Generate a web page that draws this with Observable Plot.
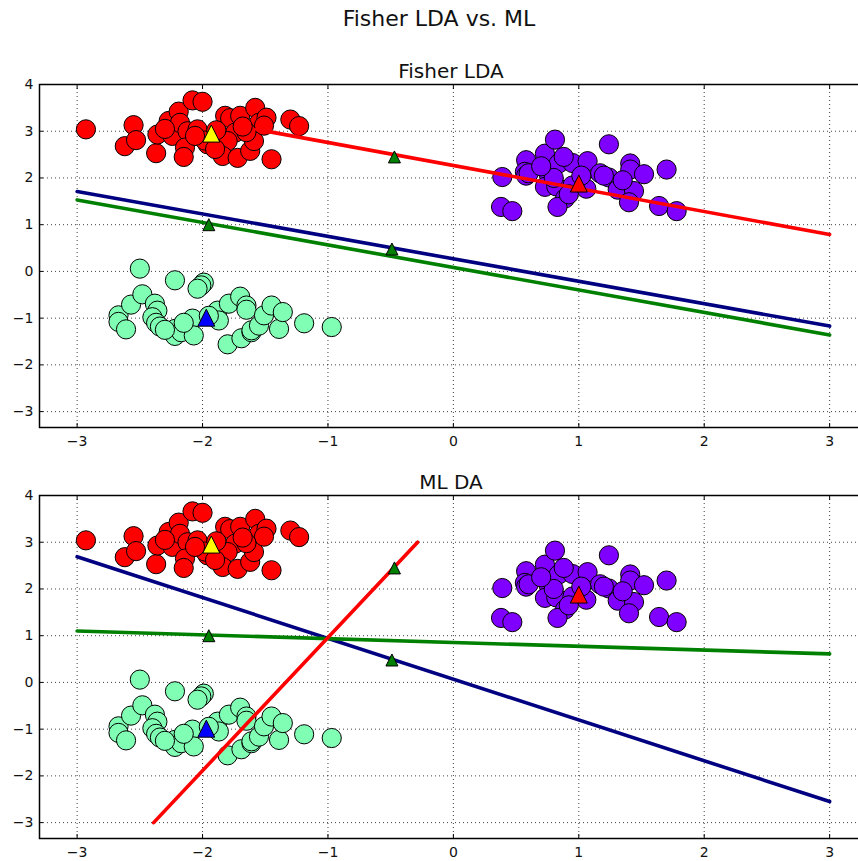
<!DOCTYPE html>
<html><head><meta charset="utf-8">
<script src="https://cdn.jsdelivr.net/npm/d3@7"></script>
<script src="https://cdn.jsdelivr.net/npm/@observablehq/plot@0.6"></script>
<style>
html,body{margin:0;padding:0;background:#fff;overflow:hidden;width:858px;height:861px;}
#root{position:relative;width:858px;height:861px;font-family:"DejaVu Sans",sans-serif;color:#000;}
.t{position:absolute;white-space:nowrap;transform:translateX(-50%);line-height:1;color:#111;}
.p{position:absolute;left:0;}
svg{max-width:none !important;}
svg text{font-size:14px !important;font-family:"DejaVu Sans",sans-serif !important;fill:#111;}
</style></head><body><div id="root"></div>
<script>
// ---- data ----
const figTitle = "Fisher LDA vs. ML";
const panelTitles = ["Fisher LDA", "ML DA"];
const xTicks = [-3, -2, -1, 0, 1, 2, 3];
const yTicks = [-3, -2, -1, 0, 1, 2, 3, 4];

const redX = [-2.93,-2.55,-2.62,-2.53,-2.37,-2.36,-2.27,-2.24,-2.19,-2.18,-2.12,-2.14,-2.15,-2.08,-2.00,-2.04,-1.96,-1.98,-1.82,-1.78,-1.70,-1.74,-1.80,-1.84,-1.72,-1.62,-1.59,-1.58,-1.55,-1.49,-1.51,-1.30,-1.23,-1.45,-1.89,-1.65,-2.30,-2.06,-1.90,-1.68];
const redY = [3.04,3.13,2.68,2.81,2.53,2.93,3.22,2.90,3.42,3.18,3.00,2.65,2.45,3.66,3.63,3.04,2.72,2.80,3.33,3.28,3.33,2.97,2.79,2.47,2.43,2.58,2.79,3.50,3.18,3.29,3.12,3.25,3.11,2.40,3.02,2.98,3.05,2.90,2.62,3.10];

const greenX = [-2.50,-2.22,-1.99,-2.01,-2.04,-2.67,-2.67,-2.61,-2.57,-2.48,-2.38,-2.36,-2.40,-2.37,-2.34,-2.22,-2.22,-2.17,-2.08,-2.07,-1.88,-1.87,-1.79,-1.70,-1.65,-1.65,-1.80,-1.69,-1.61,-1.61,-1.55,-1.51,-1.45,-1.39,-1.36,-1.19,-0.97,-2.30,-1.95,-2.15];
const greenY = [0.06,-0.19,-0.24,-0.30,-0.37,-0.94,-1.08,-1.24,-0.71,-0.49,-0.69,-0.84,-0.98,-1.10,-1.18,-1.23,-1.38,-1.30,-1.01,-1.37,-0.84,-1.05,-0.69,-0.54,-0.73,-0.82,-1.56,-1.43,-1.30,-1.26,-1.16,-0.94,-0.73,-1.23,-0.87,-1.11,-1.19,-1.25,-0.95,-1.10];

const purpleX = [0.39,0.38,0.47,0.58,0.57,0.58,0.73,0.81,0.76,0.84,0.95,1.07,1.17,1.24,1.24,0.73,0.82,0.95,1.06,0.89,0.83,0.92,1.41,1.41,1.52,1.70,1.31,1.44,1.40,1.64,1.78,0.88,0.80,1.02,1.20,1.35,0.60,0.70];
const purpleY = [2.02,1.38,1.29,2.38,2.13,2.05,2.52,2.82,2.09,2.31,2.32,2.36,2.10,2.72,2.01,1.81,1.82,1.84,1.77,1.56,1.38,1.65,2.31,2.18,2.08,2.18,1.75,1.72,1.48,1.40,1.29,2.45,2.00,2.05,2.05,1.95,2.10,2.25];

// class means (big triangles)
const meanX = [-1.93, -1.97, 1.00];
const meanY = [2.95, -0.99, 1.88];
const meanColors = ["#ffff00", "#0000ff", "#ff0000"];
// small green triangles
const markX = [-1.95, -0.47, -0.49];
const markY = [1.00, 2.45, 0.48];

// boundary lines: [x0, x1], [y0, y1]
const fisherBlueX = [-3, 3],     fisherBlueY = [1.71, -1.17];
const fisherGreenX = [-3, 3],    fisherGreenY = [1.53, -1.36];
const fisherRedX = [-1.57, 3],   fisherRedY = [3.04, 0.79];
const mlBlueX = [-3, 3],         mlBlueY = [2.69, -2.55];
const mlGreenX = [-3, 3],        mlGreenY = [1.10, 0.61];
const mlRedX = [-2.39, -0.285],  mlRedY = [-3.0, 3.0];

// ---- build ----
const zip = (xs, ys) => xs.map((x, i) => ({x, y: ys[i]}));
const reds = zip(redX, redY), greens = zip(greenX, greenY), purples = zip(purpleX, purpleY);
const means = meanX.map((x, i) => ({x, y: meanY[i], c: meanColors[i]}));
const marks = zip(markX, markY);

const mplTriangle = {
  draw(ctx, size) {
    const r = Math.sqrt(size / Math.PI);
    ctx.moveTo(0, -r); ctx.lineTo(r, r); ctx.lineTo(-r, r); ctx.closePath();
  }
};
const fmt = d3.format("d");
const TF = 14;

function panel(lineSets) {
  return Plot.plot({
    width: 863, height: 24 + 343 + 30,
    marginLeft: 39, marginRight: 0, marginTop: 24, marginBottom: 30,
    x: {domain: [-3.3, 3.27]},
    y: {domain: [-3.34, 4]},
    style: {fontFamily: "DejaVu Sans", fontSize: TF + "px", background: "transparent", color: "#111", overflow: "visible"},
    marks: [
      Plot.gridX(xTicks, {stroke: "#000", strokeOpacity: 0.75, strokeDasharray: "1,3"}),
      Plot.gridY(yTicks, {stroke: "#000", strokeOpacity: 0.75, strokeDasharray: "1,3"}),
      Plot.dot(reds, {x: "x", y: "y", r: 9.6, fill: "#ff0000", stroke: "#000", strokeWidth: 1}),
      Plot.dot(greens, {x: "x", y: "y", r: 9.6, fill: "#80ffb4", stroke: "#000", strokeWidth: 1}),
      Plot.dot(purples, {x: "x", y: "y", r: 9.6, fill: "#8000ff", stroke: "#000", strokeWidth: 1}),
      ...lineSets.map(([xs, ys, c]) => Plot.line(zip(xs, ys), {x: "x", y: "y", stroke: c, strokeWidth: 3.6})),
      Plot.dot(marks, {x: "x", y: "y", r: 6, symbol: mplTriangle, fill: "#008000", stroke: "#000", strokeWidth: 1}),
      Plot.dot(means, {x: "x", y: "y", r: 8.5, symbol: mplTriangle, fill: d => d.c, stroke: "#000", strokeWidth: 1}),
      Plot.axisX(xTicks, {anchor: "bottom", label: null, tickSize: -4, tickPadding: 12.3, tickFormat: fmt, stroke: "#000", fontSize: TF, fill: "#111"}),
      Plot.axisX(xTicks, {anchor: "top", label: null, tickSize: -4, tickFormat: () => "", stroke: "#000"}),
      Plot.axisY(yTicks, {anchor: "left", label: null, tickSize: -4, tickPadding: 10, tickFormat: fmt, stroke: "#000", fontSize: TF, fill: "#111"}),
      Plot.axisY(yTicks, {anchor: "right", label: null, tickSize: -4, tickFormat: () => "", stroke: "#000"}),
      Plot.frame({stroke: "#000", strokeWidth: 1.5})
    ],
    color: {type: "identity"}
  });
}

const root = document.getElementById("root");
const p1 = panel([[fisherBlueX, fisherBlueY, "#000080"], [fisherGreenX, fisherGreenY, "#008000"], [fisherRedX, fisherRedY, "#ff0000"]]);
p1.classList.add("p"); p1.style.top = "60px";
const p2 = panel([[mlBlueX, mlBlueY, "#000080"], [mlGreenX, mlGreenY, "#008000"], [mlRedX, mlRedY, "#ff0000"]]);
p2.classList.add("p"); p2.style.top = "471px";
root.append(p1, p2);

function addText(txt, size, cx, top) {
  const d = document.createElement("div");
  d.className = "t"; d.textContent = txt;
  d.style.fontSize = size + "px"; d.style.left = cx + "px"; d.style.top = top + "px";
  root.append(d);
}
addText(figTitle, 22, 439, 8.1);
addText(panelTitles[0], 20, 451, 61.4);
addText(panelTitles[1], 20, 451, 472.1);
</script></body></html>
